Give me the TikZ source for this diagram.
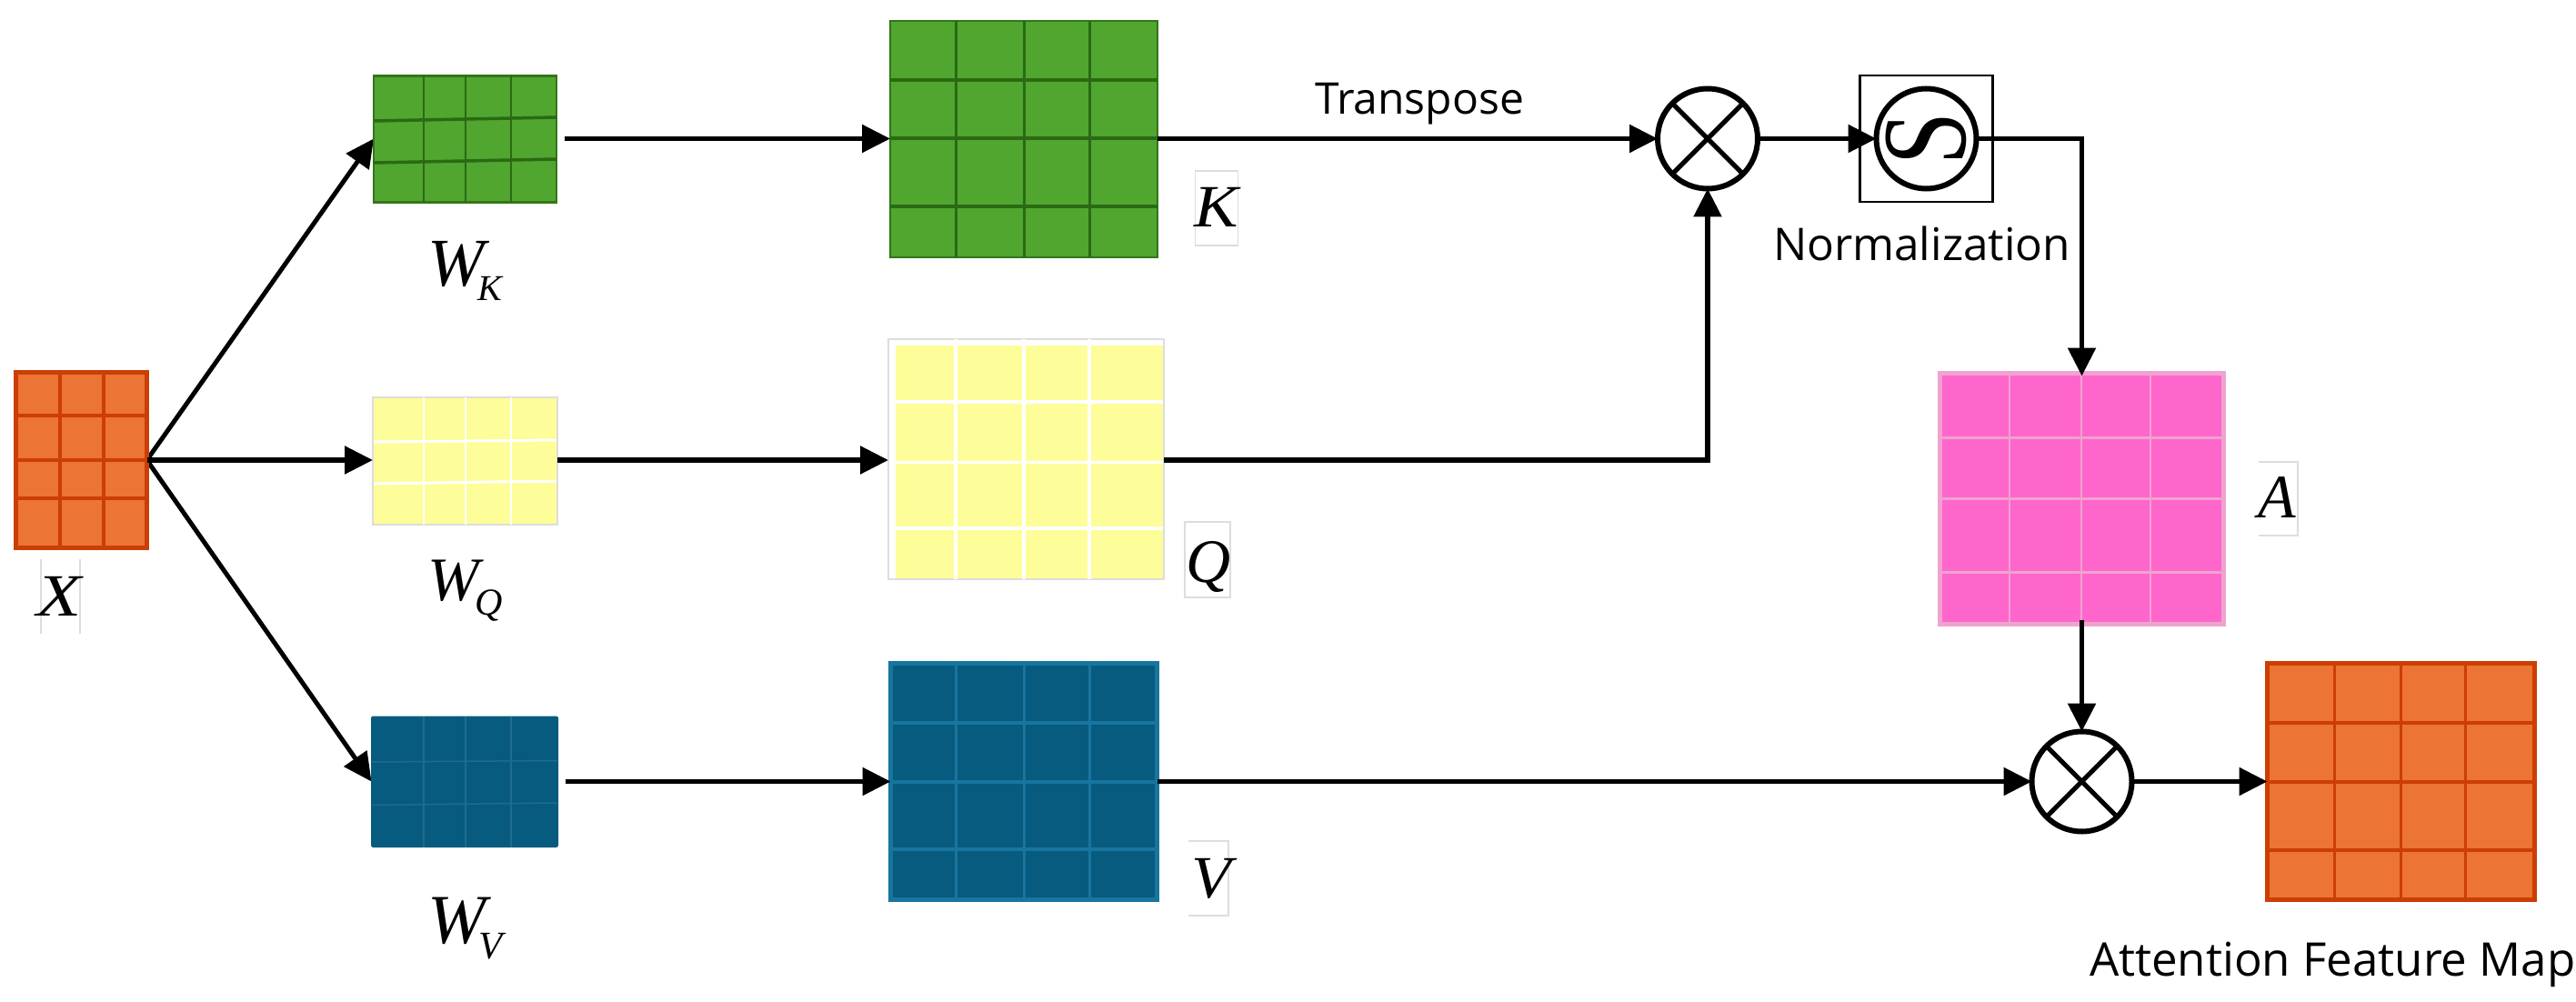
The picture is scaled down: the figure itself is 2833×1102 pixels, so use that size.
\documentclass[tikz,border=0pt]{standalone}
\usepackage{fontspec}
\usetikzlibrary{arrows.meta}
\newfontfamily\lserif{Liberation Serif}
\newfontfamily\lsans{Open Sans}
\definecolor{grfill}{HTML}{50A62F}
\definecolor{grline}{HTML}{2A6A14}
\definecolor{yefill}{HTML}{FDFD9A}
\definecolor{orfill}{HTML}{EC7434}
\definecolor{orline}{HTML}{CC3E03}
\definecolor{blfill}{HTML}{075B7E}
\definecolor{blline}{HTML}{17759F}
\definecolor{blfaint}{HTML}{1F6C8E}
\definecolor{pkfill}{HTML}{FF66CC}
\definecolor{pkline}{HTML}{EFA3CF}
\definecolor{faint}{HTML}{DDDDDD}
\pgfdeclarelayer{under}
\pgfsetlayers{under,main}
\tikzset{
  blockbox/.style={rectangle,inner sep=0pt,outer sep=0pt,anchor=north west},
  greenbox/.style={blockbox,fill=grfill,draw=grline!80!grfill,line width=2.5pt},
  yellowbox/.style={blockbox,fill=yefill,draw=faint,line width=1.5pt},
  orangebox/.style={blockbox,fill=orfill,draw=orline,line width=5pt},
  bluebox/.style={blockbox,fill=blfill,draw=blline,line width=5pt},
  bluesmall/.style={blockbox,fill=blfill,draw=blfill,line width=1pt,rounded corners=2pt},
  pinkbox/.style={blockbox,fill=pkfill,draw=pkline,line width=5pt},
  conn/.style={line width=5.5pt,-{Triangle[length=31pt,width=30pt]}},
  diag/.style={line width=5pt,-{Triangle[length=31pt,width=30pt]}},
  ring/.style={circle,draw,line width=6pt,fill=white,inner sep=0pt,outer sep=0pt,minimum size=110pt},
  sym/.style={inner sep=0pt,outer sep=0pt,anchor=base west},
  ghost/.style={draw=faint,line width=1.5pt},
}
% name, x1,y1,x2,y2, box style, grid colour/width, vertical xs, horizontal yl/yr
\newcommand\myblock[8]{%
  \node[#6,minimum width={(#4-#2)*1pt},minimum height={(#5-#3)*1pt}] (#1) at (#2,#3) {};
  \foreach \vx in {#8} {\draw[#7] (\vx,#3) -- (\vx,#5);}
}
\newcommand\myrows[4]{\foreach \yl/\yr in {#4} {\draw[#3] (#1,\yl) -- (#2,\yr);}}
\newcommand\lt[1]{\lserif\itshape\fontsize{#1}{#1}\selectfont}
\newcommand\st[1]{\lsans\fontsize{#1}{#1}\selectfont}
\begin{document}
\begin{tikzpicture}[x=1pt,y=-1pt]
\useasboundingbox (0,0) rectangle (2833,1102);
\coordinate (row1) at (0,152.5);
\coordinate (row2) at (0,506);
\coordinate (row3) at (0,859.5);

% input
\myblock{X}{17.5}{409.5}{161.5}{602.5}{orangebox}{orline,line width=3.5pt}{66,114}
\myrows{17.5}{161.5}{orline,line width=4pt}{457/457,506/506,548/548}

% first column
\myblock{Wk}{411}{83.5}{612}{222.5}{greenbox}{grline,line width=2pt}{466,512,562}
\myrows{411}{612}{grline,line width=3.5pt}{133/129,179/175}
\myblock{Wq}{410}{437}{613}{577}{yellowbox}{white,line width=2.5pt}{466,512,562}
\myrows{411}{612}{white,line width=3pt}{486/484,532/529}
\myblock{Wv}{408.5}{788}{613.5}{931.5}{bluesmall}{blfaint,line width=1.5pt}{466,512,562}
\myrows{409}{613}{blfaint,line width=1.5pt}{838/836.5,885.5/883}

% second column
\myblock{K}{979}{23}{1273}{283}{greenbox}{grline,line width=3pt}{1051,1126,1198}
\myrows{979}{1273}{grline,line width=4pt}{88/88,152.5/152.5,227.5/227.5}
\myblock{Q}{977}{373}{1280}{637}{yellowbox}{white,line width=3.5pt}{1051,1126,1198}
\fill[white] (978,374) rectangle (1279,380);
\fill[white] (978,374) rectangle (985,636);
\myrows{985}{1279}{white,line width=3.5pt}{442/442,508.5/508.5,581/581}
\myblock{V}{979.5}{729}{1272.5}{989.5}{bluebox}{blline,line width=3pt}{1051,1126,1198}
\myrows{979.5}{1272.5}{blline,line width=4pt}{795/795,859.5/859.5,934/934}

% attention map and result
\myblock{A}{2133.5}{410.5}{2445.5}{686.5}{pinkbox}{pkline,line width=2.5pt}{2210,2289,2365}
\myrows{2133.5}{2445.5}{pkline,line width=3pt}{481/481,548/548,629/629}
\myblock{F}{2493.5}{729.5}{2787.5}{989.5}{orangebox}{orline,line width=3pt}{2567,2640,2711}
\myrows{2493.5}{2787.5}{orline,line width=4pt}{795/795,860/860,935/935}

% operators
\node[ring] (m1) at (1878,152.5) {};
\draw[line width=5pt] (m1.45) -- (m1.225) (m1.135) -- (m1.315);
\node[rectangle,draw,line width=2.5pt,inner sep=0pt,outer sep=0pt,minimum width=146pt,minimum height=139pt] (sbox) at (2118.5,152.5) {};
\node[ring] (sg) at (2118.5,152.5) {};
\node[inner sep=0pt,outer sep=0pt,rotate=90] (sglyph) at (2118.5,152.5) {\scalebox{0.88}[1.12]{\lserif\fontsize{118}{118}\selectfont S}};
\node[ring] (m2) at (2289.5,859.5) {};
\draw[line width=5pt] (m2.45) -- (m2.225) (m2.135) -- (m2.315);

% connectors
\begin{pgfonlayer}{under}
\draw[diag] (X.east |- row2) -- (Wk.west |- row1);
\draw[diag] (X.east |- row2) -- (Wv.west |- row3);
\end{pgfonlayer}
\draw[conn] (X.east |- row2) -- (Wq.west |- row2);
\draw[conn] ([xshift=9pt]Wk.east |- row1) -- (K.west |- row1);
\draw[conn] (Wq.east |- row2) -- (Q.west |- row2);
\draw[conn] ([xshift=8pt]Wv.east |- row3) -- (V.west |- row3);
\draw[conn] (K.east |- row1) -- (m1.west);
\draw[conn] (Q.east |- row2) -| (m1.south);
\draw[conn] (m1.east) -- (sg.west);
\draw[conn] (sg.east) -| ([yshift=-3pt]A.north);
\draw[conn] ([yshift=5pt]A.south) -- (m2.north);
\draw[conn] (V.east |- row3) -- (m2.west);
\draw[conn] (m2.east) -- (F.west |- row3);

% faint frames round the letters
\draw[ghost] (1314.5,188) rectangle (1361.5,270);
\draw[ghost] (1303,574) rectangle (1353,657);
\draw[ghost] (1307,925) -- (1351,925) -- (1351,1007) -- (1307,1007);
\draw[ghost] (2484,508) -- (2527,508) -- (2527,589) -- (2484,589);
\draw[ghost] (45,615) -- (45,697) (88,615) -- (88,697);

% letters
\node[sym] (lx) at (40,677.5) {\scalebox{1.22}[1]{\lt{66}X}};
\node[sym] (lk) at (1313,250) {\scalebox{1.1}[1]{\lt{66}K}};
\node[sym] (lq) at (1304,640) {\lt{68}Q};
\node[sym] (lv) at (1310,987) {\scalebox{1.08}[1]{\lt{66}V}};
\node[sym] (la) at (2483,569) {\lt{68}A};
\node[sym] (lwk) at (470,314) {\lt{75}W};
\node[sym] (lwks) at (525,330) {\lt{40}K};
\node[sym] (lwq) at (470,660) {\lt{68}W};
\node[sym] (lwqs) at (522,676) {\lt{42}Q};
\node[sym] (lwv) at (470,1037) {\lt{77}W};
\node[sym] (lwvs) at (526,1054) {\lt{43}V};

% words
\node[sym] (tt) at (1446,126) {\st{48}Transpose};
\node[sym] (tn) at (1950,286) {\st{49.5}Normalization};
\node[sym] (ta) at (2298,1073) {\st{51}Attention Feature Map};
\end{tikzpicture}
\end{document}
